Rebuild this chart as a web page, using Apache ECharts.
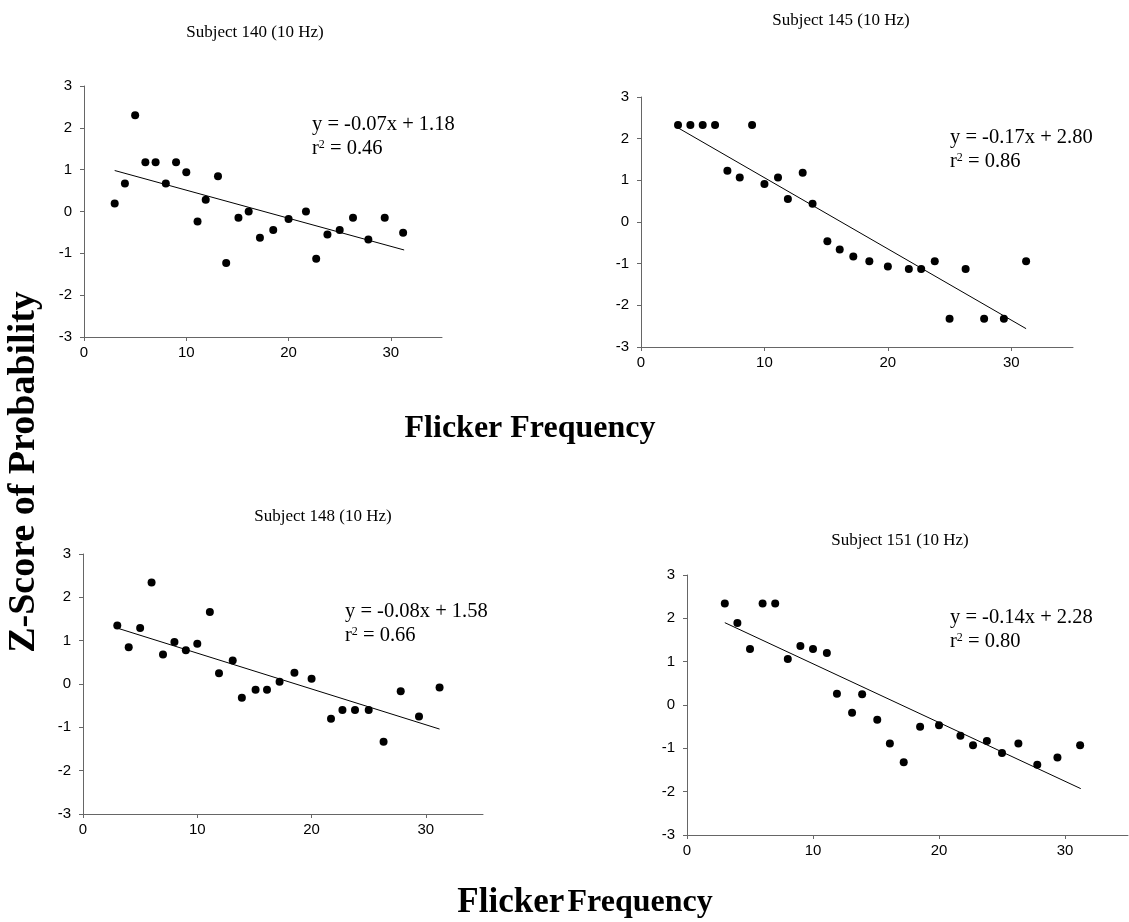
<!DOCTYPE html>
<html><head><meta charset="utf-8">
<script src="https://cdn.jsdelivr.net/npm/echarts@6/dist/echarts.min.js"></script>
<style>html,body{margin:0;padding:0;background:#fff}#c{width:1129px;height:922px}</style>
</head><body><div id="c"></div>
<script>
// Flicker frequencies (x) shared by all subjects
const freq = [3,4,5,6,7,8,9,10,11.1,11.9,13.1,13.9,15.1,16.1,17.2,18.5,20,21.7,22.7,23.8,25,26.3,27.8,29.4,31.2];
// Z-scores per subject
const s140 = [0.19,0.67,2.30,1.18,1.18,0.67,1.18,0.94,-0.24,0.28,0.84,-1.23,-0.15,0.0,-0.63,-0.44,-0.18,0.0,-1.13,-0.55,-0.44,-0.15,-0.67,-0.15,-0.51];
const s145 = [2.33,2.33,2.33,2.33,1.23,1.07,2.33,0.91,1.07,0.55,1.18,0.44,-0.46,-0.66,-0.83,-0.94,-1.07,-1.13,-1.13,-0.94,-2.32,-1.13,-2.32,-2.32,-0.94];
const s148 = [1.35,0.85,1.29,2.34,0.68,0.97,0.78,0.93,1.66,0.25,0.54,-0.32,-0.13,-0.13,0.05,0.26,0.12,-0.80,-0.60,-0.60,-0.60,-1.33,-0.17,-0.75,-0.08];
const s151 = [2.34,1.89,1.29,2.34,2.34,1.06,1.36,1.29,1.20,0.26,-0.18,0.25,-0.34,-0.89,-1.32,-0.50,-0.47,-0.71,-0.93,-0.83,-1.11,-0.89,-1.38,-1.21,-0.93];
// Trend line endpoints
const t140 = [[3,0.98],[31.3,-0.92]];
const t145 = [[3,2.26],[31.2,-2.56]];
const t148 = [[3,1.29],[31.2,-1.04]];
const t151 = [[3,1.90],[31.25,-1.93]];
// Text
const titles = ['Subject 140 (10 Hz)','Subject 145 (10 Hz)','Subject 148 (10 Hz)','Subject 151 (10 Hz)'];
const eqs = ['y = -0.07x + 1.18','y = -0.17x + 2.80','y = -0.08x + 1.58','y = -0.14x + 2.28'];
const r2s = ['0.46','0.86','0.66','0.80'];
const xTicks = [0,10,20,30];

const panels = [
  {grid:{left:84,top:86,width:358,height:251}, data:s140, trend:t140, title:[255,33], eq:[312,125]},
  {grid:{left:641,top:97,width:432,height:250}, data:s145, trend:t145, title:[841,21], eq:[950,138]},
  {grid:{left:83,top:554,width:400,height:260}, data:s148, trend:t148, title:[323,517], eq:[345,612]},
  {grid:{left:687,top:575,width:441,height:260}, data:s151, trend:t151, title:[900,541], eq:[950,618]}
];
const serif = 'Liberation Serif';
const sans = 'Liberation Sans';
const axisColor = '#666';
const grids=[], xAxes=[], yAxes=[], series=[], graphic=[];
panels.forEach((p,i)=>{
  grids.push(Object.assign({containLabel:false}, p.grid));
  xAxes.push({type:'value', gridIndex:i, min:0, max:35, interval:10,
    splitLine:{show:false},
    axisLine:{onZero:false, lineStyle:{color:axisColor,width:1}},
    axisTick:{inside:false,length:4,lineStyle:{color:axisColor}, customValues:xTicks},
    axisLabel:{color:'#000', fontFamily:sans, fontSize:15, margin:8, customValues:xTicks}
  });
  yAxes.push({type:'value', gridIndex:i, min:-3, max:3, interval:1,
    splitLine:{show:false},
    axisLine:{show:true, onZero:false, lineStyle:{color:axisColor,width:1}},
    axisTick:{show:true, inside:false,length:4,lineStyle:{color:axisColor}},
    axisLabel:{color:'#000', fontFamily:sans, fontSize:15, margin:12}
  });
  series.push({type:'scatter', xAxisIndex:i, yAxisIndex:i, symbol:'circle', symbolSize:8,
    itemStyle:{color:'#000', opacity:1}, data: freq.map((x,k)=>[x,p.data[k]]), silent:true});
  series.push({type:'line', xAxisIndex:i, yAxisIndex:i, showSymbol:false, symbol:'none',
    lineStyle:{color:'#000',width:1}, data:p.trend, silent:true, animation:false});
  graphic.push({type:'text', x:p.title[0], y:p.title[1],
    style:{text:titles[i], font:'17px "'+serif+'"', fill:'#000', textAlign:'center', textVerticalAlign:'middle'}});
  graphic.push({type:'text', x:p.eq[0], y:p.eq[1],
    style:{text:eqs[i], font:'20.5px "'+serif+'"', fill:'#000', textAlign:'left', textVerticalAlign:'middle'}});
  graphic.push({type:'text', x:p.eq[0], y:p.eq[1]+24,
    style:{text:'{a|r}{s|2}{a| = '+r2s[i]+'}', textAlign:'left', textVerticalAlign:'middle',
      rich:{a:{fontFamily:serif,fontSize:20.5,color:'#000'},
            s:{fontFamily:serif,fontSize:12,color:'#000',verticalAlign:'top',padding:[0,0,9,0]}}}});
});
graphic.push({type:'text', x:530, y:429,
  style:{text:'Flicker Frequency', font:'bold 32px "'+serif+'"', fill:'#000', textAlign:'center', textVerticalAlign:'middle'}});
graphic.push({type:'text', x:585, y:903,
  style:{text:'{a|Flicker} {b|Frequency}', textAlign:'center', textVerticalAlign:'middle',
    rich:{a:{fontFamily:serif,fontWeight:'bold',fontSize:35,color:'#000'},
          b:{fontFamily:serif,fontWeight:'bold',fontSize:32,color:'#000'}}}});
graphic.push({type:'text', x:24, y:472, rotation:Math.PI/2,
  style:{text:'Z-Score of Probability', font:'bold 38px "'+serif+'"', fill:'#000', textAlign:'center', textVerticalAlign:'middle'}});

const chart = echarts.init(document.getElementById('c'), null, {renderer:'canvas'});
chart.setOption({animation:false, backgroundColor:'#fff', grid:grids, xAxis:xAxes, yAxis:yAxes, series:series, graphic:graphic});
</script></body></html>
